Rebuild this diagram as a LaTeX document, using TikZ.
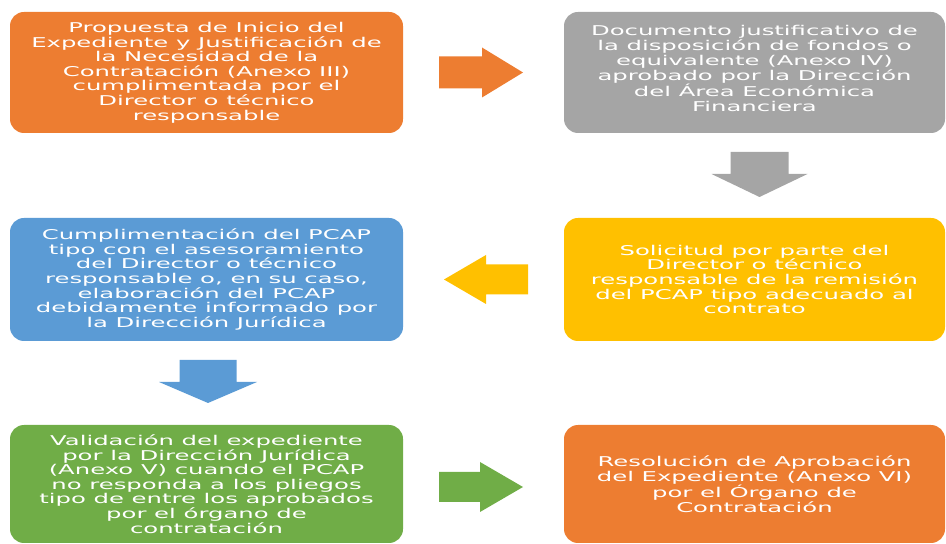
\documentclass[tikz,border=0pt]{standalone}
\usepackage{fontspec}
\setmainfont{DejaVu Sans}[FakeStretch=1.8]
\usetikzlibrary{calc}
\definecolor{cOrange}{HTML}{ED7D31}
\definecolor{cGray}{HTML}{A5A5A5}
\definecolor{cYellow}{HTML}{FFC000}
\definecolor{cBlue}{HTML}{5B9BD5}
\definecolor{cGreen}{HTML}{70AD47}
\begin{document}
\begin{tikzpicture}[x=1pt,y=1pt,
  stepbox/.style={rounded corners=14pt, inner sep=0pt, text=white, align=center,
    font=\fontsize{13.5}{14.6}\selectfont, anchor=center},
  leftbox/.style={stepbox, minimum width=393pt},
  rightbox/.style={stepbox, minimum width=381pt}]
\useasboundingbox (0,0) rectangle (946,544);
% boxes
\node[leftbox, fill=cOrange, minimum height=121pt] (b1) at (206.5,471.5)
  {Propuesta de Inicio del\\Expediente y Justificación de\\la Necesidad de la\\Contratación (Anexo III)\\cumplimentada por el\\Director o técnico\\responsable};
\node[rightbox, fill=cGray, minimum height=121pt] (b2) at (754.5,471.5) {};
\node[text=white, align=center, font=\fontsize{13.5}{15}\selectfont, inner sep=0pt]
  (t2) at ([yshift=4pt]b2.center)
  {Documento justificativo de\\la disposición de fondos o\\equivalente (Anexo IV)\\aprobado por la Dirección\\del Área Económica\\Financiera};
\node[leftbox, fill=cBlue, minimum height=123pt] (b3) at (206.5,264.5)
  {Cumplimentación del PCAP\\tipo con el asesoramiento\\del Director o técnico\\responsable o, en su caso,\\elaboración del PCAP\\debidamente informado por\\la Dirección Jurídica};
\node[rightbox, fill=cYellow, minimum height=123pt] (b4) at (754.5,264.5)
  {Solicitud por parte del\\Director o técnico\\responsable de la remisión\\del PCAP tipo adecuado al\\contrato};
\node[leftbox, fill=cGreen, minimum height=118pt] (b5) at (206.5,60)
  {Validación del expediente\\por la Dirección Jurídica\\(Anexo V) cuando el PCAP\\no responda a los pliegos\\tipo de entre los aprobados\\por el órgano de\\contratación};
\node[rightbox, fill=cOrange, minimum height=118pt] (b6) at (754.5,60)
  {Resolución de Aprobación\\del Expediente (Anexo VI)\\por el Órgano de\\Contratación};
% arrow anchor points between boxes
\coordinate (a1) at ($(b1.east)!0.5!(b2.west)$);
\coordinate (a2) at ($(b2.south)!0.5!(b4.north)$);
\coordinate (a3) at ($(b4.west)!0.5!(b3.east)$);
\coordinate (a4) at ($(b3.south)!0.5!(b5.north)$);
\coordinate (a5) at ($(b5.east)!0.5!(b6.west)$);
% block arrows
\fill[cOrange] ($(a1)+(-44.5,-16)$) -- ($(a1)+(-1.5,-16)$) -- ($(a1)+(-1.5,-25)$) -- ($(a1)+(39.5,0)$)
  -- ($(a1)+(-1.5,25)$) -- ($(a1)+(-1.5,16)$) -- ($(a1)+(-44.5,16)$) -- cycle;
\fill[cGray] ($(a2)+(-24,23.5)$) -- ($(a2)+(34,23.5)$) -- ($(a2)+(34,1.5)$) -- ($(a2)+(53,1.5)$)
  -- ($(a2)+(5,-21.5)$) -- ($(a2)+(-43,1.5)$) -- ($(a2)+(-24,1.5)$) -- cycle;
\fill[cYellow] ($(a3)+(44.5,-15)$) -- ($(a3)+(2.5,-15)$) -- ($(a3)+(2.5,-24.5)$) -- ($(a3)+(-39.5,0)$)
  -- ($(a3)+(2.5,24.5)$) -- ($(a3)+(2.5,15)$) -- ($(a3)+(44.5,15)$) -- cycle;
\fill[cBlue] ($(a4)+(-27,23)$) -- ($(a4)+(30,23)$) -- ($(a4)+(30,1)$) -- ($(a4)+(50.5,1)$)
  -- ($(a4)+(1.5,-20)$) -- ($(a4)+(-47.5,1)$) -- ($(a4)+(-27,1)$) -- cycle;
\fill[cGreen] ($(a5)+(-44.5,-18)$) -- ($(a5)+(-3.5,-18)$) -- ($(a5)+(-3.5,-28)$) -- ($(a5)+(39.5,-3)$)
  -- ($(a5)+(-3.5,22)$) -- ($(a5)+(-3.5,12)$) -- ($(a5)+(-44.5,12)$) -- cycle;
\end{tikzpicture}
\end{document}
